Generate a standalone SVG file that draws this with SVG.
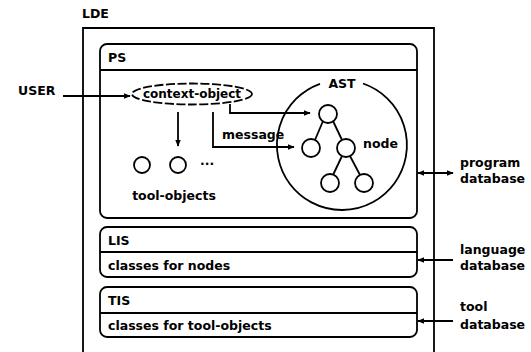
<svg xmlns="http://www.w3.org/2000/svg" width="531" height="352" viewBox="0 0 531 352">
<defs>
<style>
text{font-family:"DejaVu Sans","Liberation Sans",sans-serif;font-weight:bold;font-size:12.5px;fill:#000}
.ln{fill:none;stroke:#000;stroke-width:1.8}
.box{fill:#fff;stroke:#000;stroke-width:1.8}
.dash{fill:#fff;stroke:#000;stroke-width:1.8;stroke-dasharray:9 2.5}
</style>
<marker id="ah" viewBox="0 0 10 10" refX="9" refY="5" markerWidth="7" markerHeight="7" orient="auto-start-reverse" markerUnits="userSpaceOnUse">
<path d="M0,1 L10,5 L0,9 z" fill="#000"/>
</marker>
</defs>
<rect width="531" height="352" fill="#fff"/>

<g id="LDE">
<text x="82" y="18">LDE</text>
<path class="ln" d="M83,360 V28 H434 V360"/>
</g>

<g id="PS">
<rect class="box" x="100" y="44" width="317" height="174" rx="7"/>
<line class="ln" x1="100" y1="70" x2="417" y2="70"/>
<text x="108" y="62">PS</text>
</g>

<g id="AST">
<path class="ln" d="M363,83.5 A65,65 0 1 1 320,83.8"/>
<text x="342" y="88" text-anchor="middle">AST</text>
<g id="tree">
<line class="ln" x1="323" y1="121" x2="315" y2="140"/>
<line class="ln" x1="333" y1="121" x2="342" y2="140"/>
<line class="ln" x1="342" y1="156" x2="333" y2="175"/>
<line class="ln" x1="350" y1="156" x2="360" y2="175"/>
<circle class="box" cx="328" cy="114" r="9"/>
<circle class="box" cx="311" cy="148" r="9"/>
<circle class="box" cx="346" cy="148" r="9"/>
<circle class="box" cx="330" cy="183" r="9"/>
<circle class="box" cx="364" cy="183" r="9"/>
</g>
<text x="363" y="148">node</text>
</g>

<g id="context-object">
<ellipse class="dash" cx="192" cy="94" rx="60" ry="10.5"/>
<text x="192" y="98" text-anchor="middle" style="font-size:12px">context-object</text>
</g>

<g id="tool-objects">
<circle class="box" cx="142" cy="165" r="8"/>
<circle class="box" cx="178" cy="165" r="8"/>
<text x="200" y="165">...</text>
<text x="174" y="200" text-anchor="middle">tool-objects</text>
</g>

<g id="LIS">
<rect class="box" x="100" y="227" width="317" height="50" rx="7"/>
<line class="ln" x1="100" y1="252" x2="417" y2="252"/>
<text x="108" y="245">LIS</text>
<text x="108" y="270">classes for nodes</text>
</g>

<g id="TIS">
<rect class="box" x="100" y="287" width="317" height="50" rx="7"/>
<line class="ln" x1="100" y1="313" x2="417" y2="313"/>
<text x="108" y="305">TIS</text>
<text x="108" y="330">classes for tool-objects</text>
</g>

<g id="USER"><text x="18" y="95">USER</text></g>

<g id="program-database">
<text x="460" y="167">program</text>
<text x="460" y="183">database</text>
</g>
<g id="language-database">
<text x="460" y="254">language</text>
<text x="460" y="270">database</text>
</g>
<g id="tool-database">
<text x="460" y="311">tool</text>
<text x="460" y="329">database</text>
</g>

<g id="connectors">
<line class="ln" x1="63" y1="96" x2="130" y2="96" marker-end="url(#ah)"/>
<line class="ln" x1="178" y1="112" x2="178" y2="146" marker-end="url(#ah)"/>
<path class="ln" d="M230,104 V113 H310" marker-end="url(#ah)"/>
<path class="ln" d="M213,112 V147 H294" marker-end="url(#ah)"/>
<line class="ln" x1="418" y1="173" x2="453" y2="173" marker-start="url(#ah)" marker-end="url(#ah)"/>
<line class="ln" x1="453" y1="260" x2="418" y2="260" marker-end="url(#ah)"/>
<line class="ln" x1="453" y1="321" x2="418" y2="321" marker-end="url(#ah)"/>
</g>
<text x="222" y="139">message</text>
</svg>
